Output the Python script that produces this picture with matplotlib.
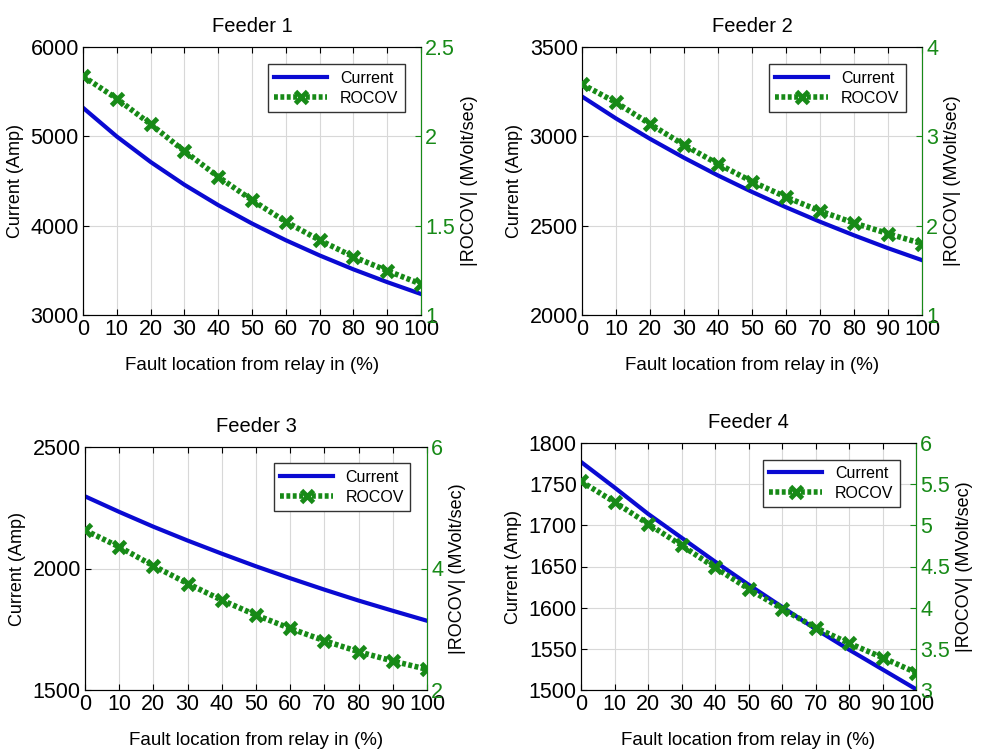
import numpy as np
import matplotlib
matplotlib.use("Agg")
import matplotlib.pyplot as plt

plt.rcParams['font.family'] = ['Liberation Sans', 'DejaVu Sans']

# Data
loc = [0, 10, 20, 30, 40, 50, 60, 70, 80, 90, 100]

cur1 = [5320, 4998, 4713, 4458, 4230, 4024, 3837, 3667, 3511, 3368, 3235]
roc1 = [2.336, 2.211, 2.068, 1.917, 1.774, 1.643, 1.522, 1.419, 1.326, 1.248, 1.173]

cur2 = [3223, 3100, 2986, 2880, 2781, 2689, 2603, 2522, 2446, 2374, 2307]
roc2 = [3.584, 3.379, 3.138, 2.903, 2.691, 2.494, 2.320, 2.164, 2.030, 1.911, 1.799]

cur3 = [2297, 2233, 2172, 2115, 2061, 2009, 1960, 1913, 1868, 1826, 1785]
roc3 = [4.630, 4.356, 4.044, 3.753, 3.479, 3.233, 3.014, 2.811, 2.630, 2.477, 2.340]

cur4 = [1777, 1746, 1714, 1685, 1656, 1628, 1601, 1574, 1549, 1525, 1501]
roc4 = [5.534, 5.283, 5.019, 4.756, 4.488, 4.229, 3.986, 3.758, 3.568, 3.394, 3.211]

panels = [
    ("Feeder 1", cur1, roc1, (3000, 6000), [3000, 4000, 5000, 6000], (1, 2.5), [1, 1.5, 2, 2.5], ["1", "1.5", "2", "2.5"],
     [83, 47, 421, 315]),
    ("Feeder 2", cur2, roc2, (2000, 3500), [2000, 2500, 3000, 3500], (1, 4), [1, 2, 3, 4], ["1", "2", "3", "4"],
     [582, 47, 922, 315]),
    ("Feeder 3", cur3, roc3, (1500, 2500), [1500, 2000, 2500], (2, 6), [2, 4, 6], ["2", "4", "6"],
     [85, 447, 427, 690]),
    ("Feeder 4", cur4, roc4, (1500, 1800), [1500, 1550, 1600, 1650, 1700, 1750, 1800], (3, 6),
     [3, 3.5, 4, 4.5, 5, 5.5, 6], ["3", "3.5", "4", "4.5", "5", "5.5", "6"],
     [581, 443, 916, 690]),
]

W, H = 981, 754
fig = plt.figure(figsize=(W / 100, H / 100), dpi=100)
green = "#178a17"
blue = "#0a0ad2"

for title, cur, roc, ylim, yt, rlim, rt, rtl, box in panels:
    x0, y0, x1, y1 = box
    ax = fig.add_axes([x0 / W, 1 - y1 / H, (x1 - x0) / W, (y1 - y0) / H])
    l1, = ax.plot(loc, cur, color=blue, lw=3, label="Current", zorder=3)
    ax.set_xlim(0, 100)
    ax.set_ylim(*ylim)
    ax.set_xticks(loc)
    ax.set_yticks(yt)
    ax.tick_params(direction="in", labelsize=15.5, top=True, length=4, pad=3)
    ax.grid(True, color="#d8d8d8", lw=0.8)
    ax.set_title(title, fontsize=14.5, pad=11)
    ax.set_xlabel("Fault location from relay in (%)", fontsize=13.5, labelpad=12)
    ax.set_ylabel("Current (Amp)", fontsize=13, labelpad=5)
    for s in ax.spines.values():
        s.set_color("#444444")

    ax2 = ax.twinx()
    l2, = ax2.plot(loc, roc, color=green, ls=(0, (0.7, 0.45)), lw=4, marker="x", ms=9, mew=3.5,
                   label="ROCOV", zorder=4)
    ax2.set_ylim(*rlim)
    ax2.set_yticks(rt)
    ax2.set_yticklabels(rtl)
    ax2.tick_params(direction="in", labelsize=15.5, colors=green, length=4, pad=3)
    ax2.spines["right"].set_color(green)
    ax2.set_ylabel("|ROCOV| (MVolt/sec)", fontsize=13, labelpad=4)

    leg = ax2.legend([l1, l2], ["Current", "ROCOV"], loc="upper right", fontsize=11.5,
                     fancybox=False, framealpha=1, edgecolor="#333333",
                     handlelength=3.3, borderpad=0.4, labelspacing=0.3,
                     bbox_to_anchor=(0.975, 0.965))
    leg.get_frame().set_linewidth(1)

fig.savefig("out.png", dpi=100)
